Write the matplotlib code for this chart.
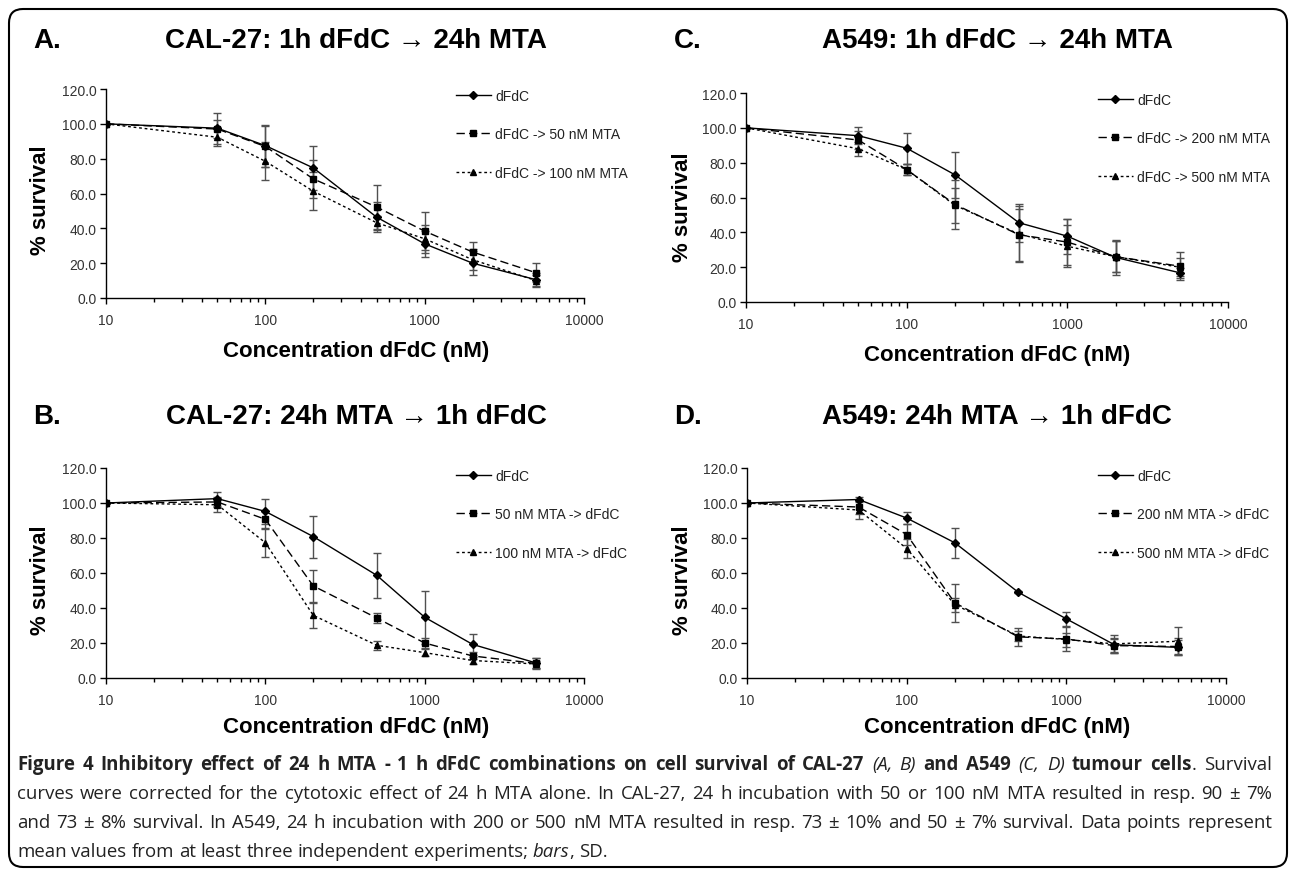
import matplotlib
matplotlib.use('Agg')
import matplotlib.pyplot as plt
from matplotlib.patches import FancyBboxPatch
from matplotlib.transforms import IdentityTransform
from matplotlib.ticker import FixedLocator, LogLocator, NullFormatter

plt.rcParams['font.family'] = 'Liberation Sans'

W, H = 1290, 870

# ---- data ----
conc = [10, 50, 100, 200, 500, 1000, 2000, 5000]

a_dfdc = [100, 97.5, 87.5, 74.7, 46.4, 31.1, 20, 10.5]
a_dfdc_err = [0, 9, 12, 12.5, 8.5, 7.5, 7, 4]
a_50 = [100, 97, 87, 68.4, 52.2, 38.4, 26.4, 14.5]
a_50_err = [0, 5, 12, 11, 12.5, 11, 5.5, 5.5]
a_100 = [100, 92.3, 78.5, 61.3, 43.2, 34, 22, 10]
a_100_err = [0, 5, 11, 11, 4, 8, 6, 3]

c_dfdc = [100, 95.5, 88.3, 73, 45.5, 37.8, 25.6, 16.8]
c_dfdc_err = [0, 5, 9, 13, 11, 10, 10, 3]
c_200 = [100, 93, 76, 56, 38.6, 34.4, 26, 20.6]
c_200_err = [0, 5, 3, 14, 15, 13, 9, 8]
c_500 = [100, 88, 76, 55.5, 39, 32, 26, 20]
c_500_err = [0, 4, 3, 10, 16, 12, 9, 5]

b_dfdc = [100, 102.5, 95.2, 80.8, 58.7, 34.7, 19.2, 8.6]
b_dfdc_err = [0, 4, 7, 12, 13, 15, 6, 3]
b_50 = [100, 100.6, 90.7, 52.6, 34.3, 20, 12.6, 8.3]
b_50_err = [0, 3, 5, 9, 3, 3, 2, 3]
b_100 = [100, 99, 77.3, 35.8, 18.7, 14.5, 10, 8]
b_100_err = [0, 4, 8, 7, 2.5, 2, 2, 2]

d_dfdc = [100, 102, 91.4, 77.3, 49, 33.8, 19, 17.5]
d_dfdc_err = [0, 1.5, 3.5, 8.5, 0.5, 4, 4, 4]
d_200 = [100, 97.7, 82, 43, 23.5, 22.3, 18.5, 18]
d_200_err = [0, 4, 6, 11, 5, 7, 4, 5]
d_500 = [100, 96, 74, 42, 24, 22, 19.5, 21]
d_500_err = [0, 5, 5.5, 4, 3, 4, 5, 8]

labels_a = ['dFdC', 'dFdC -> 50 nM MTA', 'dFdC -> 100 nM MTA']
labels_c = ['dFdC', 'dFdC -> 200 nM MTA', 'dFdC -> 500 nM MTA']
labels_b = ['dFdC', '50 nM MTA -> dFdC', '100 nM MTA -> dFdC']
labels_d = ['dFdC', '200 nM MTA -> dFdC', '500 nM MTA -> dFdC']

yticks = [0, 20, 40, 60, 80, 100, 120]
xticks = [10, 100, 1000, 10000]

caption = [
    "*Figure 4 Inhibitory effect of 24 h MTA - 1 h dFdC combinations on cell survival of CAL-27* _(A, B)_ "
    "*and A549* _(C, D)_ *tumour cells*. Survival",
    "curves were corrected for the cytotoxic effect of 24 h MTA alone. In CAL-27, 24 h incubation with 50 or "
    "100 nM MTA resulted in resp. 90 \u00b1 7%",
    "and 73 \u00b1 8% survival. In A549, 24 h incubation with 200 or 500 nM MTA resulted in resp. 73 \u00b1 10% "
    "and 50 \u00b1 7% survival. Data points represent",
    "mean values from at least three independent experiments; _bars_, SD.",
]


def fx(px):
    return px / W


def fy(py):
    return 1 - py / H


fig = plt.figure(figsize=(W / 100, H / 100), dpi=100)

styles = [dict(ls='-', marker='D', ms=3.8),
          dict(ls=(0, (6, 3)), marker='s', ms=5),
          dict(ls=(0, (2, 2)), marker='^', ms=5)]


def panel(rect, series, errs, labels, leg_xy, letter, title, title_xy, ylab_xy, xlab_xy):
    ax = fig.add_axes(rect)
    handles = []
    for vals, err, st in zip(series, errs, styles):
        ax.errorbar(conc, vals, yerr=err, fmt='none', ecolor='#505050',
                    elinewidth=1, capsize=3, capthick=1, zorder=2)
        ln, = ax.plot(conc, vals, color='black', lw=1, ls=st['ls'],
                      marker=st['marker'], ms=st['ms'], mfc='black', mec='black', zorder=3)
        handles.append(ln)
    ax.set_xscale('log')
    ax.set_xlim(10, 10000)
    ax.set_ylim(0, 120)
    ax.xaxis.set_major_locator(FixedLocator(xticks))
    ax.set_xticklabels([str(t) for t in xticks])
    ax.xaxis.set_minor_locator(LogLocator(base=10, subs=range(2, 10)))
    ax.xaxis.set_minor_formatter(NullFormatter())
    ax.set_yticks(yticks)
    ax.set_yticklabels(['%.1f' % t for t in yticks])
    for s in ['top', 'right']:
        ax.spines[s].set_visible(False)
    for s in ['left', 'bottom']:
        ax.spines[s].set_linewidth(1)
    ax.tick_params(axis='both', which='major', direction='out', length=4, width=1,
                   labelsize=10, labelcolor='#333333')
    ax.tick_params(axis='x', which='major', pad=7)
    ax.tick_params(axis='x', which='minor', direction='out', length=3, width=1)
    ax.tick_params(axis='y', pad=3)
    fig.legend(handles, labels, loc='upper left', bbox_to_anchor=(fx(leg_xy[0]), fy(leg_xy[1])),
               bbox_transform=fig.transFigure, frameon=False, fontsize=10,
               handlelength=2.5, handletextpad=0.3, labelspacing=1.75,
               borderpad=0, borderaxespad=0, labelcolor='#222222')
    fig.text(fx(title_xy[0] - 323), fy(title_xy[1]), letter, fontsize=20, weight='bold',
             ha='left', va='center')
    fig.text(fx(title_xy[0]), fy(title_xy[1]), title, fontsize=20, weight='bold',
             ha='center', va='center')
    fig.text(fx(ylab_xy[0]), fy(ylab_xy[1]), '% survival', fontsize=16, weight='bold',
             rotation=90, ha='center', va='center')
    fig.text(fx(xlab_xy[0]), fy(xlab_xy[1]), 'Concentration dFdC (nM)', fontsize=16,
             weight='bold', ha='center', va='center')
    return ax


panel([fx(106), fy(299), 478 / W, 209 / H],
      [a_dfdc, a_50, a_100], [a_dfdc_err, a_50_err, a_100_err], labels_a,
      (456, 90), 'A.', 'CAL-27: 1h dFdC \u2192 24h MTA', (356, 41), (41, 200), (356, 351))
panel([fx(746), fy(303), 482 / W, 209 / H],
      [c_dfdc, c_200, c_500], [c_dfdc_err, c_200_err, c_500_err], labels_c,
      (1098, 94), 'C.', 'A549: 1h dFdC \u2192 24h MTA', (997, 41), (682, 207), (997, 356))
panel([fx(106), fy(679), 478 / W, 210 / H],
      [b_dfdc, b_50, b_100], [b_dfdc_err, b_50_err, b_100_err], labels_b,
      (456, 470), 'B.', 'CAL-27: 24h MTA \u2192 1h dFdC', (356, 417), (41, 580), (356, 728))
panel([fx(747), fy(679), 479 / W, 210 / H],
      [d_dfdc, d_200, d_500], [d_dfdc_err, d_200_err, d_500_err], labels_d,
      (1098, 470), 'D.', 'A549: 24h MTA \u2192 1h dFdC', (997, 417), (682, 580), (997, 728))

# ---- outer rounded frame ----
frame = FancyBboxPatch((9, 2), 1278, 858, boxstyle='round,pad=0,rounding_size=14',
                       transform=IdentityTransform(), fill=False, lw=1.5, ec='black')
fig.add_artist(frame)

# ---- caption, justified, with bold / italic runs ----
renderer = fig.canvas.get_renderer()


def parse_words(line):
    runs = []
    bold = ital = False
    buf = ''
    for ch in line:
        if ch in '*_':
            if buf:
                runs.append((buf, bold, ital))
            buf = ''
            if ch == '*':
                bold = not bold
            else:
                ital = not ital
        else:
            buf += ch
    if buf:
        runs.append((buf, bold, ital))
    words = [[]]
    for txt, b, i in runs:
        parts = txt.split(' ')
        for k, p in enumerate(parts):
            if k > 0:
                words.append([])
            if p:
                words[-1].append((p, b, i))
    return [w for w in words if w]


def piece_width(txt, b, i, size):
    t = fig.text(0, 0, txt, fontsize=size, family='Open Sans',
                 weight='bold' if b else 'normal', style='italic' if i else 'normal')
    w = t.get_window_extent(renderer).width
    t.remove()
    return w


x0, x1 = 17, 1272
parsed = [parse_words(line) for line in caption]

# pick a size at which the widest full line fills ~97% of the text width
base = 10.0
natural = []
for words in parsed[:-1]:
    tot = sum(piece_width(p, b, i, base) for w in words for p, b, i in w)
    natural.append(tot + (len(words) - 1) * base * 100 / 72 * 0.26)
cap_size = base * 0.975 * (x1 - x0) / max(natural)

baselines = [770, 799, 828, 857]
for n, (words, yb) in enumerate(zip(parsed, baselines)):
    widths = [[piece_width(p, b, i, cap_size) for p, b, i in w] for w in words]
    total = sum(sum(ws) for ws in widths)
    if n < len(parsed) - 1:
        gap = (x1 - x0 - total) / (len(words) - 1)
    else:
        gap = cap_size * 100 / 72 * 0.26
    x = x0
    for w, ws in zip(words, widths):
        for (p, b, i), pw in zip(w, ws):
            fig.text(fx(x), fy(yb), p, fontsize=cap_size, family='Open Sans',
                     weight='bold' if b else 'normal', style='italic' if i else 'normal',
                     ha='left', va='baseline', color='#222222')
            x += pw
        x += gap

fig.savefig('out.png', dpi=100)
